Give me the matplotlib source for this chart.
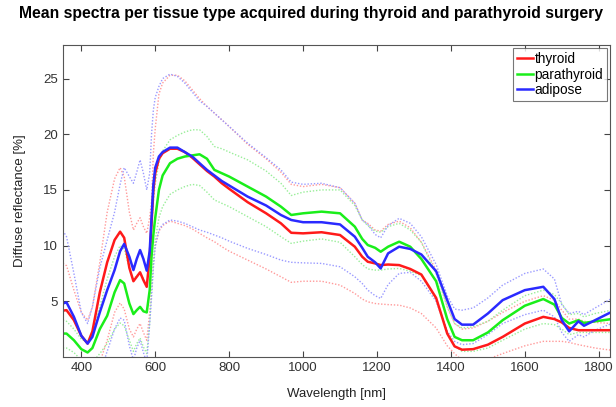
import matplotlib
matplotlib.use("Agg")
import matplotlib.pyplot as plt
import numpy as np

plt.rcParams['font.family'] = ['Liberation Sans', 'DejaVu Sans']

# wavelength grid [nm]
wavelength = [350, 360, 380, 400, 417, 430, 450, 470, 490, 505, 516, 530, 541, 550, 559, 568, 577,
              585, 590, 595, 600, 610, 620, 640, 660, 680, 700, 720, 740, 760, 780, 800, 850, 900,
              940, 968, 1000, 1050, 1100, 1140, 1160, 1175, 1195, 1210, 1230, 1260, 1290, 1320, 1360,
              1390, 1410, 1430, 1460, 1500, 1540, 1600, 1650, 1680, 1700, 1720, 1745, 1760, 1790, 1835]

# mean reflectance [%]
thyroid = [4.16, 4.2, 3.3, 1.9, 1.2, 2.3, 5.8, 8.5, 10.5, 11.25, 10.7, 8.0, 6.8, 7.2, 7.6, 6.9, 6.3,
           9.0, 12.0, 15.0, 16.5, 17.8, 18.3, 18.7, 18.7, 18.4, 17.9, 17.3, 16.7, 16.2, 15.6, 15.1, 13.9, 12.9,
           12.0, 11.15, 11.1, 11.2, 10.95, 9.9, 9.0, 8.55, 8.4, 8.25, 8.3, 8.25, 7.9, 7.4, 5.3,
           2.1, 0.95, 0.65, 0.7, 1.1, 1.8, 3.0, 3.6, 3.4, 3.1, 2.6, 2.4, 2.4, 2.4, 2.4]
parathyroid = [2.1, 2.1, 1.5, 0.7, 0.4, 0.8, 2.5, 3.7, 5.8, 6.9, 6.6, 4.8, 3.85, 4.2, 4.5, 4.1, 4.0,
               6.0, 9.0, 11.0, 12.5, 15.0, 16.3, 17.4, 17.8, 18.0, 18.1, 18.2, 17.8, 16.8, 16.5, 16.2, 15.3, 14.4,
               13.5, 12.75, 12.9, 13.05, 12.9, 11.7, 10.6, 10.05, 9.8, 9.45, 9.9, 10.35, 9.9, 8.8, 6.8,
               3.4, 1.8, 1.5, 1.5, 2.2, 3.3, 4.6, 5.2, 4.7, 3.5, 3.0, 3.3, 3.05, 3.2, 3.4]
adipose = [4.8, 4.9, 3.6, 1.9, 1.2, 1.8, 4.0, 6.0, 7.8, 9.5, 10.15, 9.0, 7.8, 8.8, 9.6, 8.8, 7.75,
           9.5, 12.5, 15.5, 17.0, 18.0, 18.4, 18.8, 18.8, 18.4, 18.0, 17.4, 16.8, 16.3, 15.8, 15.4, 14.4, 13.6,
           12.75, 12.3, 12.1, 12.1, 11.9, 10.8, 9.8, 9.0, 8.5, 7.95, 9.3, 9.9, 9.7, 9.2, 7.7,
           5.1, 3.4, 2.9, 2.9, 3.9, 5.1, 6.0, 6.3, 5.2, 3.3, 2.3, 3.2, 2.8, 3.3, 4.05]

# upper / lower bounds (dotted)
thyroid_hi = [8.4, 8.2, 6.0, 4.0, 3.3, 4.5, 8.5, 13.0, 16.0, 17.0, 16.2, 13.0, 11.4, 12.0, 12.5, 11.7, 11.1,
              12.5, 14.0, 18.3, 20.5, 23.6, 24.6, 25.3, 25.3, 24.8, 24.0, 23.2, 22.5, 21.9, 21.3, 20.7, 19.1, 17.8,
              16.6, 15.5, 15.3, 15.5, 15.2, 13.8, 12.3, 12.0, 11.4, 11.3, 11.9, 12.2, 11.6, 10.3, 7.8,
              4.5, 3.0, 2.5, 2.6, 3.2, 4.0, 5.0, 5.5, 5.1, 4.2, 3.4, 3.4, 3.2, 3.1, 3.0]
thyroid_lo = [-0.5, -0.5, -1.0, -2.0, -2.0, -1.5, -0.5, 1.5, 4.0, 4.85, 4.3, 2.5, 1.8, 2.5, 3.0, 2.2, 1.5,
              4.0, 6.0, 8.5, 10.0, 11.3, 11.8, 12.2, 12.0, 11.8, 11.5, 11.1, 10.7, 10.35, 9.9, 9.5, 8.7, 7.9,
              7.2, 6.7, 6.8, 6.8, 6.45, 5.7, 5.2, 4.95, 4.8, 4.75, 4.7, 4.65, 4.4, 3.9, 2.6,
              1.0, 0.3, -0.3, -0.5, -0.2, 0.3, 1.0, 1.4, 1.4, 1.4, 1.3, 1.1, 1.0, 0.8, 0.6]
parathyroid_hi = [3.3, 3.2, 2.5, 1.6, 1.3, 2.0, 4.5, 7.0, 9.0, 10.0, 9.7, 8.0, 7.0, 7.3, 7.6, 7.0, 6.5,
                  8.5, 11.5, 14.0, 15.5, 17.5, 18.5, 19.5, 19.9, 20.2, 20.4, 20.4, 19.8, 18.9, 18.7, 18.4, 17.7, 16.7,
                  15.6, 14.5, 14.8, 15.0, 15.0, 13.6, 12.3, 11.8, 11.3, 11.2, 11.7, 12.0, 11.4, 10.3, 7.5,
                  4.5, 3.0, 2.6, 2.7, 3.2, 4.2, 5.5, 6.0, 5.6, 4.8, 3.8, 3.9, 3.6, 3.9, 4.2]
parathyroid_lo = [0.8, 0.8, 0.4, -0.3, -0.6, -0.5, 0.3, 1.2, 2.5, 3.05, 2.8, 1.5, 0.5, 1.2, 1.7, 0.9, 0.3,
                  3.0, 6.0, 8.5, 10.5, 12.5, 13.5, 14.6, 15.0, 15.3, 15.5, 15.4, 14.8, 14.1, 13.8, 13.5, 12.6, 11.7,
                  10.8, 10.2, 10.4, 10.6, 10.3, 9.0, 8.3, 7.9, 7.8, 7.8, 7.9, 7.95, 7.7, 7.3, 5.2,
                  2.3, 1.0, 0.5, 0.5, 0.8, 1.5, 2.5, 3.0, 2.9, 2.5, 2.0, 2.2, 2.2, 2.2, 2.2]
adipose_hi = [11.35, 10.8, 7.5, 4.0, 3.0, 4.5, 8.0, 10.5, 13.0, 15.5, 17.0, 16.2, 15.6, 16.6, 17.7, 16.5, 15.0,
              16.5, 20.0, 22.2, 23.3, 24.3, 25.0, 25.4, 25.2, 24.6, 23.8, 23.0, 22.5, 21.9, 21.3, 20.7, 19.2, 17.9,
              16.8, 15.7, 15.5, 15.6, 15.2, 13.8, 12.3, 11.9, 11.0, 10.7, 11.8, 12.45, 12.0, 10.8, 8.3,
              5.5, 4.3, 4.2, 4.4, 5.3, 6.45, 7.5, 7.9, 7.0, 4.7, 3.9, 4.1, 3.8, 4.4, 5.25]
adipose_lo = [-2.0, -2.0, -2.5, -3.0, -3.0, -2.5, -1.5, 0.5, 2.5, 3.5, 3.3, 1.0, -0.3, 0.8, 1.5, 0.4, -0.5,
              3.0, 5.3, 8.0, 9.9, 11.4, 11.9, 12.3, 12.2, 12.0, 11.7, 11.4, 11.2, 10.95, 10.7, 10.4, 9.75, 9.2,
              8.7, 8.5, 8.45, 8.4, 8.1, 7.2, 6.6, 6.0, 5.5, 5.25, 6.5, 7.5, 7.6, 6.8, 5.0,
              2.3, 1.4, 1.1, 1.2, 2.0, 3.0, 3.8, 4.2, 3.6, 2.2, 1.4, 2.0, 1.8, 2.4, 3.0]

fig = plt.figure(figsize=(6.16, 4.07), dpi=100)
ax = fig.add_axes([0.102, 0.123, 0.888, 0.766])

wl = np.array(wavelength)
# dotted bounds first, pale like the original
for hi, lo, c in [(thyroid_hi, thyroid_lo, '#ff9a9a'),
                  (parathyroid_hi, parathyroid_lo, '#99ee99'),
                  (adipose_hi, adipose_lo, '#9a9aff')]:
    ax.plot(wl, hi, ls=(0, (1, 1.3)), lw=1.0, color=c)
    ax.plot(wl, lo, ls=(0, (1, 1.3)), lw=1.0, color=c)

ax.plot(wl, thyroid, color='#ff1a1a', lw=1.8, label='thyroid')
ax.plot(wl, parathyroid, color='#1aee1a', lw=1.8, label='parathyroid')
ax.plot(wl, adipose, color='#2a2aff', lw=1.8, label='adipose')

ax.set_xlim(350, 1830)
ax.set_ylim(0, 28)
ax.set_xticks([400, 600, 800, 1000, 1200, 1400, 1600, 1800])
ax.set_yticks([5, 10, 15, 20, 25])
ax.tick_params(direction='in', top=True, right=True, length=4, labelsize=9.5, colors='#444444',
               labelcolor='#333333')
for s in ax.spines.values():
    s.set_color('#555555')

ax.set_xlabel('Wavelength [nm]', fontsize=9.5, color='#222222', labelpad=10)
ax.set_ylabel('Diffuse reflectance [%]', fontsize=9.5, color='#222222', labelpad=12)
fig.text(0.505, 0.967, 'Mean spectra per tissue type acquired during thyroid and parathyroid surgery',
         ha='center', va='center', fontsize=11.3, fontweight='bold')

leg = ax.legend(loc='upper right', fontsize=9.8, handlelength=1.2, handletextpad=0.1,
                borderpad=0.3, labelspacing=0.12, fancybox=False, borderaxespad=0.2)
leg.get_frame().set_edgecolor('#555555')
leg.get_frame().set_linewidth(0.8)

fig.savefig('out.png', dpi=100)
